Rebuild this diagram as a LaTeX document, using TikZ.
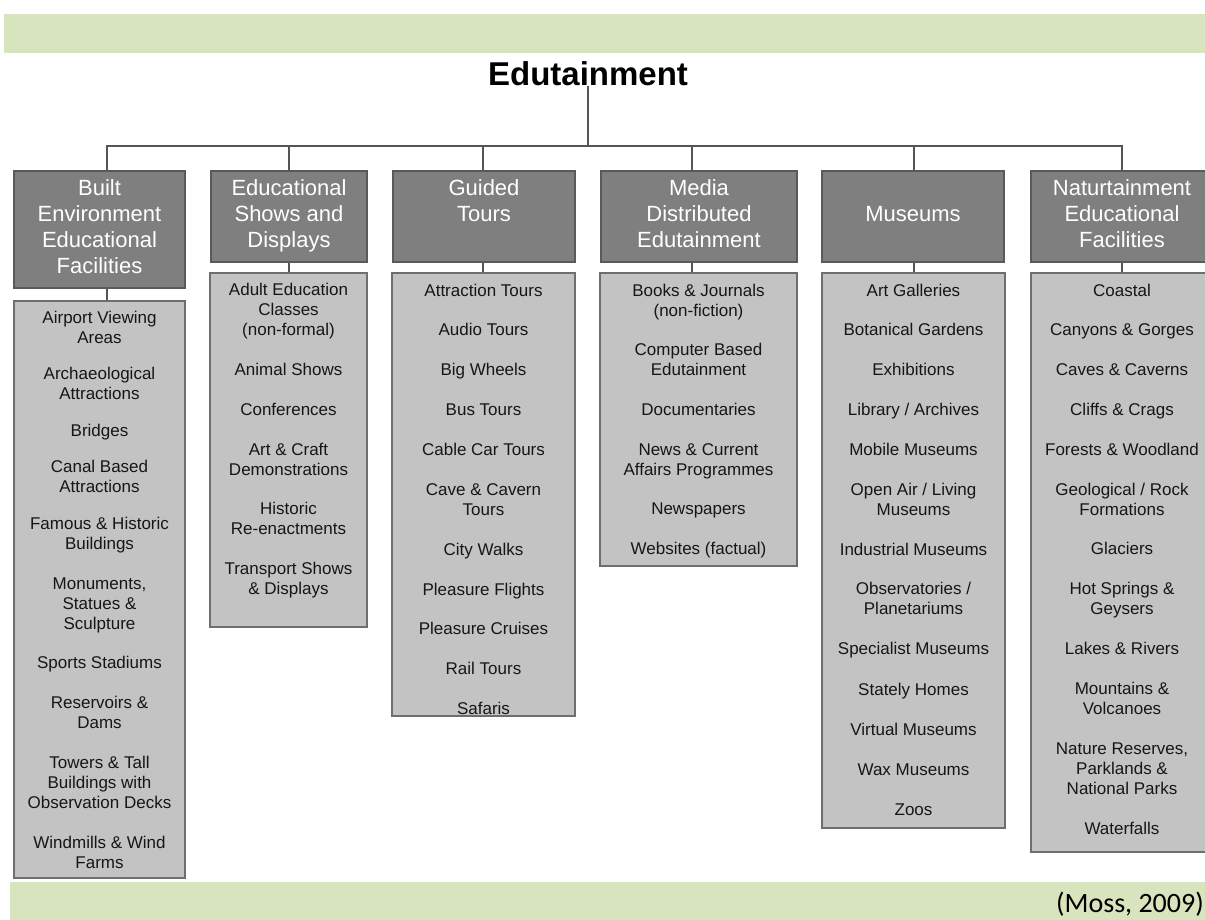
\documentclass[tikz,border=0pt]{standalone}
\usepackage{fontspec}
\setmainfont{Liberation Sans}
\newfontfamily\citefont{Carlito}
\definecolor{barcol}{HTML}{D7E4BD}
\definecolor{hdrfill}{HTML}{7F7F7F}
\definecolor{hdrline}{HTML}{5A5A5A}
\definecolor{lstfill}{HTML}{C3C3C3}
\definecolor{lstline}{HTML}{6E6E6E}
\definecolor{connline}{HTML}{555555}
\definecolor{itemtext}{HTML}{161616}
\begin{document}
\begin{tikzpicture}[x=1pt,y=-1pt,
  hdr/.style={draw=hdrline, fill=hdrfill, line width=1.3pt, text=white,
    font=\fontsize{22}{26}\selectfont, align=center, inner sep=0pt},
  lst/.style={draw=lstline, fill=lstfill, line width=1.3pt, inner sep=0pt},
  itm/.style={text=itemtext, font=\fontsize{17}{20}\selectfont, align=center, inner sep=0pt, yshift=-2pt},
  conn/.style={draw=connline, line width=1.2pt}]
\useasboundingbox (0,0) rectangle (1205,920);
\clip (0,0) rectangle (1205,920);
% green bars
\fill[barcol] (4,14) rectangle (1205,53);
\fill[barcol] (10,882) rectangle (1205,920);
\node[font=\citefont\fontsize{28}{32}\selectfont, anchor=base east, inner sep=0pt] (cite) at (1204,912) {(Moss, 2009)};
% title
\node[font=\bfseries\fontsize{33}{38}\selectfont, inner sep=0pt] (title) at (588,74) {Edutainment};
\coordinate (hub) at (588,146);
% headers
\node[hdr, minimum width=171, minimum height=117] (h1) at (99.5,229.5) {\strut Built\\Environment\\Educational\\Facilities\strut};
\node[hdr, minimum width=156, minimum height=91] (h2) at (289,216.5) {\strut Educational\\Shows and\\Displays\strut};
\node[hdr, minimum width=182, minimum height=91] (h3) at (484,216.5) {\strut Guided\\Tours\\~\strut};
\node[hdr, minimum width=196, minimum height=91] (h4) at (699,216.5) {\strut Media\\Distributed\\Edutainment\strut};
\node[hdr, minimum width=182, minimum height=91] (h5) at (913,216.5) {\strut Museums\strut};
\node[hdr, minimum width=182, minimum height=91] (h6) at (1122,216.5) {\strut Naturtainment\\Educational\\Facilities\strut};
% list boxes
\node[lst, minimum width=171, minimum height=577] (l1) at (99.5,589.5) {};
\node[lst, minimum width=157, minimum height=354] (l2) at (288.5,450) {};
\node[lst, minimum width=183, minimum height=443] (l3) at (483.5,494.5) {};
\node[lst, minimum width=197, minimum height=293] (l4) at (698.5,419.5) {};
\node[lst, minimum width=183, minimum height=555] (l5) at (913.5,550.5) {};
\node[lst, minimum width=182, minimum height=579] (l6) at (1122,562.5) {};
% connectors
\draw[conn] (title.south) -- (hub);
\draw[conn] (hub) -| ([xshift=7.5pt]h1.north);
\draw[conn] (hub) -| (h2.north);
\draw[conn] (hub) -| ([xshift=-1pt]h3.north);
\draw[conn] (hub) -| ([xshift=-7pt]h4.north);
\draw[conn] (hub) -| ([xshift=1pt]h5.north);
\draw[conn] (hub) -| (h6.north);
\draw[conn] ([xshift=7.5pt]h1.south) -- ([xshift=7.5pt]l1.north);
\draw[conn] (h2.south) -- ([xshift=0.5pt]l2.north);
\draw[conn] ([xshift=-1pt]h3.south) -- ([xshift=-0.5pt]l3.north);
\draw[conn] ([xshift=-7pt]h4.south) -- ([xshift=-6.5pt]l4.north);
\draw[conn] ([xshift=1pt]h5.south) -- ([xshift=0.5pt]l5.north);
\draw[conn] (h6.south) -- (l6.north);
% items column 1
\foreach \yy/\tt [count=\k] in {327/{Airport Viewing\\Areas}, 383/{Archaeological\\Attractions}, 430/{Bridges}, 476/{Canal Based\\Attractions}, 533/{Famous \& Historic\\Buildings}, 603/{Monuments,\\Statues \&\\Sculpture}, 662/{Sports Stadiums}, 712/{Reservoirs \&\\Dams}, 782/{Towers \& Tall\\Buildings with\\Observation Decks}, 852/{Windmills \& Wind\\Farms}}
  \node[itm] (a\k) at (99.5,\yy) {\strut\tt\strut};
% items column 2
\foreach \yy/\tt [count=\k] in {309/{Adult Education\\Classes\\(non-formal)}, 369/{Animal Shows}, 409/{Conferences}, 459/{Art \& Craft\\Demonstrations}, 518/{Historic\\Re-enactments}, 578/{Transport Shows\\\& Displays}}
  \node[itm] (b\k) at (288.5,\yy) {\strut\tt\strut};
% items column 3
\foreach \yy/\tt [count=\k] in {290/{Attraction Tours}, 329/{Audio Tours}, 369/{Big Wheels}, 409/{Bus Tours}, 449/{Cable Car Tours}, 499/{Cave \& Cavern\\Tours}, 549/{City Walks}, 589/{Pleasure Flights}, 628/{Pleasure Cruises}, 668/{Rail Tours}, 708/{Safaris}}
  \node[itm] (c\k) at (483.5,\yy) {\strut\tt\strut};
% items column 4
\foreach \yy/\tt [count=\k] in {300/{Books \& Journals\\(non-fiction)}, 359/{Computer Based\\Edutainment}, 409/{Documentaries}, 459/{News \& Current\\Affairs Programmes}, 508/{Newspapers}, 548/{Websites (factual)}}
  \node[itm] (d\k) at (698.5,\yy) {\strut\tt\strut};
% items column 5
\foreach \yy/\tt [count=\k] in {290/{Art Galleries}, 329/{Botanical Gardens}, 369/{Exhibitions}, 409/{Library / Archives}, 449/{Mobile Museums}, 499/{Open Air / Living\\Museums}, 549/{Industrial Museums}, 598/{Observatories /\\Planetariums}, 648/{Specialist Museums}, 689/{Stately Homes}, 729/{Virtual Museums}, 769/{Wax Museums}, 809/{Zoos}}
  \node[itm] (e\k) at (913.5,\yy) {\strut\tt\strut};
% items column 6
\foreach \yy/\tt [count=\k] in {290/{Coastal}, 329/{Canyons \& Gorges}, 369/{Caves \& Caverns}, 409/{Cliffs \& Crags}, 449/{Forests \& Woodland}, 499/{Geological / Rock\\Formations}, 548/{Glaciers}, 598/{Hot Springs \&\\Geysers}, 648/{Lakes \& Rivers}, 698/{Mountains \&\\Volcanoes}, 768/{Nature Reserves,\\Parklands \&\\National Parks}, 828/{Waterfalls}}
  \node[itm] (f\k) at (1122,\yy) {\strut\tt\strut};
\end{tikzpicture}
\end{document}
